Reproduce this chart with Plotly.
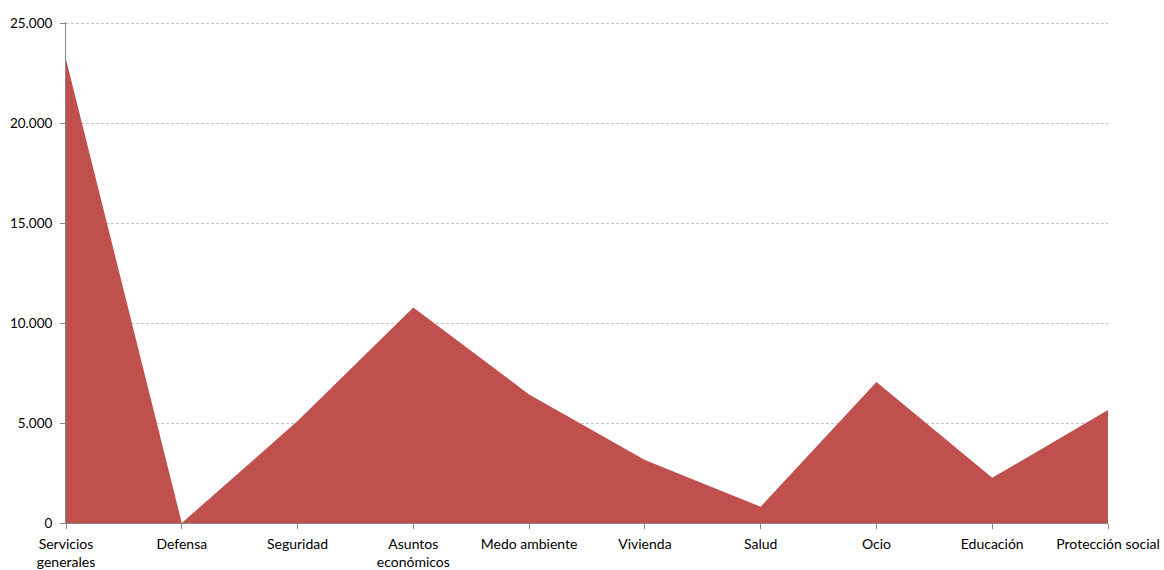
import plotly.graph_objects as go

categories = ["Servicios<br>generales", "Defensa", "Seguridad", "Asuntos<br>económicos",
              "Medo ambiente", "Vivienda", "Salud", "Ocio", "Educación", "Protección social"]
values = [23200, 0, 5100, 10780, 6430, 3150, 815, 7050, 2260, 5650]
y_ticks = [0, 5000, 10000, 15000, 20000, 25000]

positions = list(range(len(categories)))

fig = go.Figure()
fig.add_trace(go.Scatter(
    x=positions, y=values,
    mode="lines", fill="tozeroy",
    line=dict(color="#C0504D", width=0),
    fillcolor="#C0504D",
    hoverinfo="skip",
    cliponaxis=False,
))

axis_color = "#868686"
fig.update_layout(
    width=1164, height=570,
    margin=dict(l=66, r=56, t=22, b=47),
    paper_bgcolor="white", plot_bgcolor="white",
    showlegend=False,
    separators=",.",
    font=dict(family="Lato, 'Open Sans', sans-serif", size=13, color="#000000"),
    xaxis=dict(
        range=[0, len(categories) - 1],
        tickmode="array", tickvals=positions, ticktext=categories,
        tickfont=dict(size=14),
        showgrid=False, zeroline=False,
        showline=True, linecolor=axis_color, linewidth=1,
        ticks="outside", ticklen=5, tickcolor=axis_color,
        tickangle=0, automargin=False, ticklabelstandoff=3,
    ),
    yaxis=dict(
        range=[0, 25060],
        tickmode="array", tickvals=y_ticks, tickformat=",d",
        tickfont=dict(size=13.5),
        showgrid=True, gridcolor="#C4C4C4", griddash="3px,2px", gridwidth=1,
        zeroline=False,
        showline=True, linecolor=axis_color, linewidth=1,
        ticks="outside", ticklen=5, tickcolor=axis_color,
        automargin=False, ticklabelstandoff=5,
    ),
)

fig.write_html("out.html")
